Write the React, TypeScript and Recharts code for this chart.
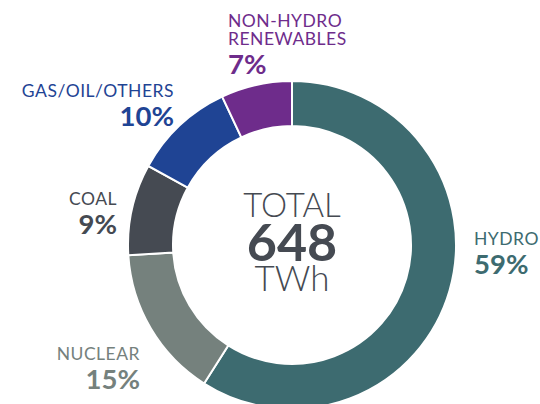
import { PieChart, Pie, Cell } from "recharts"

const sources = ["HYDRO", "NUCLEAR", "COAL", "GAS/OIL/OTHERS", "NON-HYDRO RENEWABLES"]
const shares = [59, 15, 9, 10, 7]
const colors = ["#3d6b70", "#75817d", "#454a52", "#1f4494", "#6e2c8b"]
const totalTWh = 648

const data = sources.map((name, i) => ({ name, value: shares[i], color: colors[i] }))

// label text placement, relative to the pie centre
const labelPos: Record<string, { dx: number; dy: number; anchor: "start" | "end" }> = {
  "HYDRO": { dx: 182, dy: 0, anchor: "start" },
  "NUCLEAR": { dx: -152, dy: 115, anchor: "end" },
  "COAL": { dx: -175, dy: -40, anchor: "end" },
  "GAS/OIL/OTHERS": { dx: -118, dy: -148, anchor: "end" },
  "NON-HYDRO RENEWABLES": { dx: -64, dy: -218, anchor: "start" },
}

const FONT = "Lato, 'Open Sans', sans-serif"

function CenterText({ cx, cy }: { cx: number; cy: number }) {
  return (
    <g fill="#454a52" fontFamily={FONT} textAnchor="middle">
      <text x={cx} y={cy - 28} fontSize={33} fontWeight={300}>TOTAL</text>
      <text x={cx} y={cy + 16} fontSize={52} fontWeight={700}>{totalTWh}</text>
      <text x={cx} y={cy + 46} fontSize={35} fontWeight={300}>TWh</text>
    </g>
  )
}

function SliceLabel(props: any) {
  const { cx, cy, name, value, fill, index } = props
  const pos = labelPos[name]
  const x = cx + pos.dx
  const lines = name === "NON-HYDRO RENEWABLES" ? ["NON-HYDRO", "RENEWABLES"] : [name]
  const y0 = cy + pos.dy
  return (
    <g>
      {index === 0 && <CenterText cx={cx} cy={cy} />}
      {lines.map((line, i) => (
        <text key={line} x={x} y={y0 + i * 18} textAnchor={pos.anchor} fill={fill}
          fontFamily={FONT} fontSize={17.5} letterSpacing={0.5}>
          {line}
        </text>
      ))}
      <text x={x} y={y0 + (lines.length - 1) * 18 + 29} textAnchor={pos.anchor} fill={fill}
        fontFamily={FONT} fontSize={27.5} fontWeight={700}>
        {`${value}%`}
      </text>
    </g>
  )
}

export default function App() {
  return (
    <div style={{ position: "absolute", left: 0, top: 0, background: "#fff" }}>
      <PieChart width={540} height={404}>
        <Pie
          data={data}
          dataKey="value"
          nameKey="name"
          cx={287}
          cy={240}
          innerRadius={119}
          outerRadius={164}
          startAngle={90}
          endAngle={-270}
          stroke="#ffffff"
          strokeWidth={2}
          labelLine={false}
          label={SliceLabel}
          isAnimationActive={false}
        >
          {data.map((entry, index) => (
            <Cell key={`cell-${index}`} fill={entry.color} />
          ))}
        </Pie>
      </PieChart>
    </div>
  )
}
